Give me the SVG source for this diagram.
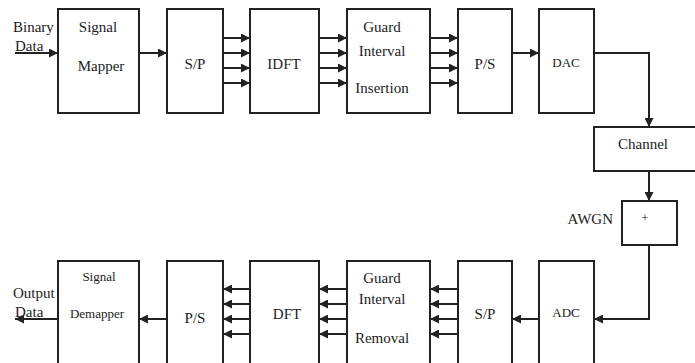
<svg xmlns="http://www.w3.org/2000/svg" width="695" height="363" viewBox="0 0 695 363">
<style>
.box{fill:#fff;stroke:#222;stroke-width:2}
.ln{fill:none;stroke:#222;stroke-width:2}
text{font-family:"Liberation Serif","Times New Roman",serif;font-size:15px;fill:#222;text-anchor:middle}
.sm{font-size:13px}
.l{text-anchor:start}
.r{text-anchor:end}
</style>
<defs>
<marker id="ah" viewBox="0 0 10 10" refX="10" refY="5" markerWidth="4.5" markerHeight="4.5" orient="auto" markerUnits="strokeWidth">
<path d="M0,0 L10,5 L0,10 z" fill="#222"/>
</marker>
</defs>
<rect width="695" height="363" fill="#fff"/>
<g id="connectors">
<line class="ln" x1="15" y1="53" x2="58" y2="53" marker-end="url(#ah)"/>
<line class="ln" x1="139" y1="53" x2="167" y2="53" marker-end="url(#ah)"/>
<line class="ln" x1="223" y1="38" x2="250" y2="38" marker-end="url(#ah)"/>
<line class="ln" x1="223" y1="53" x2="250" y2="53" marker-end="url(#ah)"/>
<line class="ln" x1="223" y1="68" x2="250" y2="68" marker-end="url(#ah)"/>
<line class="ln" x1="223" y1="83" x2="250" y2="83" marker-end="url(#ah)"/>
<line class="ln" x1="319" y1="38" x2="347" y2="38" marker-end="url(#ah)"/>
<line class="ln" x1="319" y1="53" x2="347" y2="53" marker-end="url(#ah)"/>
<line class="ln" x1="319" y1="68" x2="347" y2="68" marker-end="url(#ah)"/>
<line class="ln" x1="319" y1="83" x2="347" y2="83" marker-end="url(#ah)"/>
<line class="ln" x1="430" y1="38" x2="458" y2="38" marker-end="url(#ah)"/>
<line class="ln" x1="430" y1="53" x2="458" y2="53" marker-end="url(#ah)"/>
<line class="ln" x1="430" y1="68" x2="458" y2="68" marker-end="url(#ah)"/>
<line class="ln" x1="430" y1="83" x2="458" y2="83" marker-end="url(#ah)"/>
<line class="ln" x1="512" y1="53" x2="539" y2="53" marker-end="url(#ah)"/>
<polyline class="ln" points="594,53 649,53 649,127" marker-end="url(#ah)"/>
<line class="ln" x1="649" y1="171" x2="649" y2="201" marker-end="url(#ah)"/>
<polyline class="ln" points="649,245 649,319 594,319" marker-end="url(#ah)"/>
<line class="ln" x1="539" y1="319" x2="512" y2="319" marker-end="url(#ah)"/>
<line class="ln" x1="458" y1="289" x2="430" y2="289" marker-end="url(#ah)"/>
<line class="ln" x1="458" y1="304" x2="430" y2="304" marker-end="url(#ah)"/>
<line class="ln" x1="458" y1="319" x2="430" y2="319" marker-end="url(#ah)"/>
<line class="ln" x1="458" y1="334" x2="430" y2="334" marker-end="url(#ah)"/>
<line class="ln" x1="347" y1="289" x2="319" y2="289" marker-end="url(#ah)"/>
<line class="ln" x1="347" y1="304" x2="319" y2="304" marker-end="url(#ah)"/>
<line class="ln" x1="347" y1="319" x2="319" y2="319" marker-end="url(#ah)"/>
<line class="ln" x1="347" y1="334" x2="319" y2="334" marker-end="url(#ah)"/>
<line class="ln" x1="250" y1="289" x2="223" y2="289" marker-end="url(#ah)"/>
<line class="ln" x1="250" y1="304" x2="223" y2="304" marker-end="url(#ah)"/>
<line class="ln" x1="250" y1="319" x2="223" y2="319" marker-end="url(#ah)"/>
<line class="ln" x1="250" y1="334" x2="223" y2="334" marker-end="url(#ah)"/>
<line class="ln" x1="167" y1="319" x2="139" y2="319" marker-end="url(#ah)"/>
<line class="ln" x1="58" y1="319" x2="15" y2="319" marker-end="url(#ah)"/>
</g>
<g id="binary-data"><text class="l" x="13" y="32">Binary</text><text class="l" x="15" y="51">Data</text></g>
<g id="signal-mapper"><rect class="box" x="58" y="9" width="81" height="104"/><text x="98" y="32">Signal</text><text x="101" y="71">Mapper</text></g>
<g id="sp-top"><rect class="box" x="167" y="9" width="56" height="104"/><text x="195" y="69">S/P</text></g>
<g id="idft"><rect class="box" x="250" y="9" width="69" height="104"/><text x="284" y="69">IDFT</text></g>
<g id="guard-insertion"><rect class="box" x="347" y="9" width="83" height="104"/><text x="382" y="32">Guard</text><text x="382" y="56">Interval</text><text x="382" y="93">Insertion</text></g>
<g id="ps-top"><rect class="box" x="458" y="9" width="54" height="104"/><text x="485" y="69">P/S</text></g>
<g id="dac"><rect class="box" x="539" y="9" width="55" height="104"/><text class="sm" x="566" y="67">DAC</text></g>
<g id="channel"><rect class="box" x="594" y="127" width="104" height="44"/><text x="643" y="149">Channel</text></g>
<g id="awgn"><text class="r" x="613" y="224">AWGN</text><rect class="box" x="622" y="201" width="55" height="44"/><text class="sm" x="645" y="222">+</text></g>
<g id="adc"><rect class="box" x="539" y="261" width="55" height="110"/><text class="sm" x="566" y="317">ADC</text></g>
<g id="sp-bottom"><rect class="box" x="458" y="261" width="54" height="110"/><text x="485" y="319">S/P</text></g>
<g id="guard-removal"><rect class="box" x="347" y="261" width="83" height="110"/><text x="382" y="283">Guard</text><text x="382" y="304">Interval</text><text x="382" y="343">Removal</text></g>
<g id="dft"><rect class="box" x="250" y="261" width="69" height="110"/><text x="287" y="319">DFT</text></g>
<g id="ps-bottom"><rect class="box" x="167" y="261" width="56" height="110"/><text x="195" y="323">P/S</text></g>
<g id="signal-demapper"><rect class="box" x="58" y="261" width="81" height="110"/><text class="sm" x="99" y="281">Signal</text><text class="sm" x="97" y="318">Demapper</text></g>
<g id="output-data"><text class="l" x="13" y="298">Output</text><text class="l" x="15" y="317">Data</text></g>
</svg>
